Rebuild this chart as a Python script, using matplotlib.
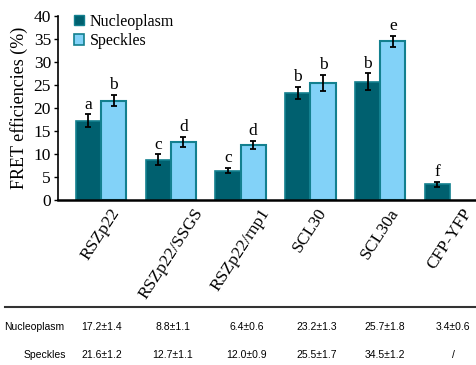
import numpy as np
import matplotlib
matplotlib.use("Agg")
import matplotlib.pyplot as plt
from matplotlib.patches import Patch

# FRET efficiencies (%) by construct
constructs = ["RSZp22", "RSZp22/SSGS", "RSZp22/rnp1", "SCL30", "SCL30a", "CFP-YFP"]
nucleoplasm = [17.2, 8.8, 6.4, 23.2, 25.7, 3.4]
nucleoplasm_err = [1.4, 1.1, 0.6, 1.3, 1.8, 0.6]
speckles = [21.6, 12.7, 12.0, 25.5, 34.5, None]
speckles_err = [1.2, 1.1, 0.9, 1.7, 1.2, None]
nucleoplasm_letters = ["a", "c", "c", "b", "b", "f"]
speckles_letters = ["b", "d", "d", "b", "e", ""]

dark = "#00606F"
light = "#82D2F8"
edge = "#13808F"
serif = ["Liberation Serif", "DejaVu Serif"]
sans = ["Liberation Sans Narrow", "Liberation Sans", "DejaVu Sans"]

W, H = 476, 365
fig = plt.figure(figsize=(W / 100, H / 100), dpi=100)
ax = fig.add_axes([58 / W, 1 - 200 / H, (W - 58) / W, 184 / H])

x = np.arange(len(constructs))
bw = 0.36
ax.bar(x - bw / 2, nucleoplasm, bw, color=dark, edgecolor=edge, linewidth=1.2, zorder=2)
ax.errorbar(x - bw / 2, nucleoplasm, yerr=nucleoplasm_err, fmt="none", ecolor="black",
            elinewidth=1.3, capsize=2.5, capthick=1.3, zorder=3)

sx = [xi + bw / 2 for xi, v in zip(x, speckles) if v is not None]
sv = [v for v in speckles if v is not None]
se = [e for e in speckles_err if e is not None]
ax.bar(sx, sv, bw, color=light, edgecolor=edge, linewidth=1.5, zorder=2)
ax.errorbar(sx, sv, yerr=se, fmt="none", ecolor="black",
            elinewidth=1.3, capsize=2.5, capthick=1.3, zorder=3)

for xi, v, e, t in zip(x, nucleoplasm, nucleoplasm_err, nucleoplasm_letters):
    ax.text(xi - bw / 2, v + e + 0.4, t, ha="center", va="bottom", fontsize=12.5, family=serif)
for xi, v, e, t in zip(x, speckles, speckles_err, speckles_letters):
    if v is not None and t:
        ax.text(xi + bw / 2, v + e + 0.4, t, ha="center", va="bottom", fontsize=12.5, family=serif)

ax.set_xlim((58 - 101) / 69.8, (W - 101) / 69.8)
ax.set_ylim(0, 40)
ax.set_yticks(np.arange(0, 41, 5))
ax.tick_params(axis="y", labelsize=12.5, length=3, width=1, pad=2)
for lab in ax.get_yticklabels():
    lab.set_family(serif)
ax.set_xticks(x)
ax.set_xticklabels(constructs, rotation=57, ha="center", va="top", fontsize=12.5, family=serif)
ax.tick_params(axis="x", length=0, pad=4)
ax.spines["top"].set_visible(False)
ax.spines["right"].set_visible(False)
ax.spines["left"].set_linewidth(1.2)
ax.spines["bottom"].set_linewidth(1.8)
ax.set_ylabel("FRET efficiencies (%)", fontsize=13, family=serif, labelpad=4)

handles = [Patch(facecolor=dark, edgecolor=edge, linewidth=1.0),
           Patch(facecolor=light, edgecolor=edge, linewidth=1.2)]
fig.legend(handles, ["Nucleoplasm", "Speckles"], loc="upper left",
           bbox_to_anchor=(74 / W, 1 - 14 / H), frameon=False,
           prop={"family": serif, "size": 11.5}, handlelength=0.6, handleheight=0.6,
           handletextpad=0.4, labelspacing=0.2, borderpad=0, borderaxespad=0)

# value table beneath the chart
fig.add_artist(plt.Line2D([5 / W, 1], [1 - 307 / H] * 2, color="#333333", linewidth=1.5))
row_y = [1 - 327 / H, 1 - 355 / H]
fig.text(34 / W, row_y[0], "Nucleoplasm", ha="center", va="center", fontsize=7.5, family=sans)
fig.text(45 / W, row_y[1], "Speckles", ha="center", va="center", fontsize=7.5, family=sans)
col_x = [102, 173, 247, 317, 385, 453]
for cx, v, e in zip(col_x, nucleoplasm, nucleoplasm_err):
    fig.text(cx / W, row_y[0], f"{v:.1f}\u00b1{e:.1f}", ha="center", va="center",
             fontsize=7.5, family=sans)
for cx, v, e in zip(col_x, speckles, speckles_err):
    s = "/" if v is None else f"{v:.1f}\u00b1{e:.1f}"
    fig.text(cx / W, row_y[1], s, ha="center", va="center", fontsize=7.5, family=sans)

fig.savefig("out.png", dpi=100)
